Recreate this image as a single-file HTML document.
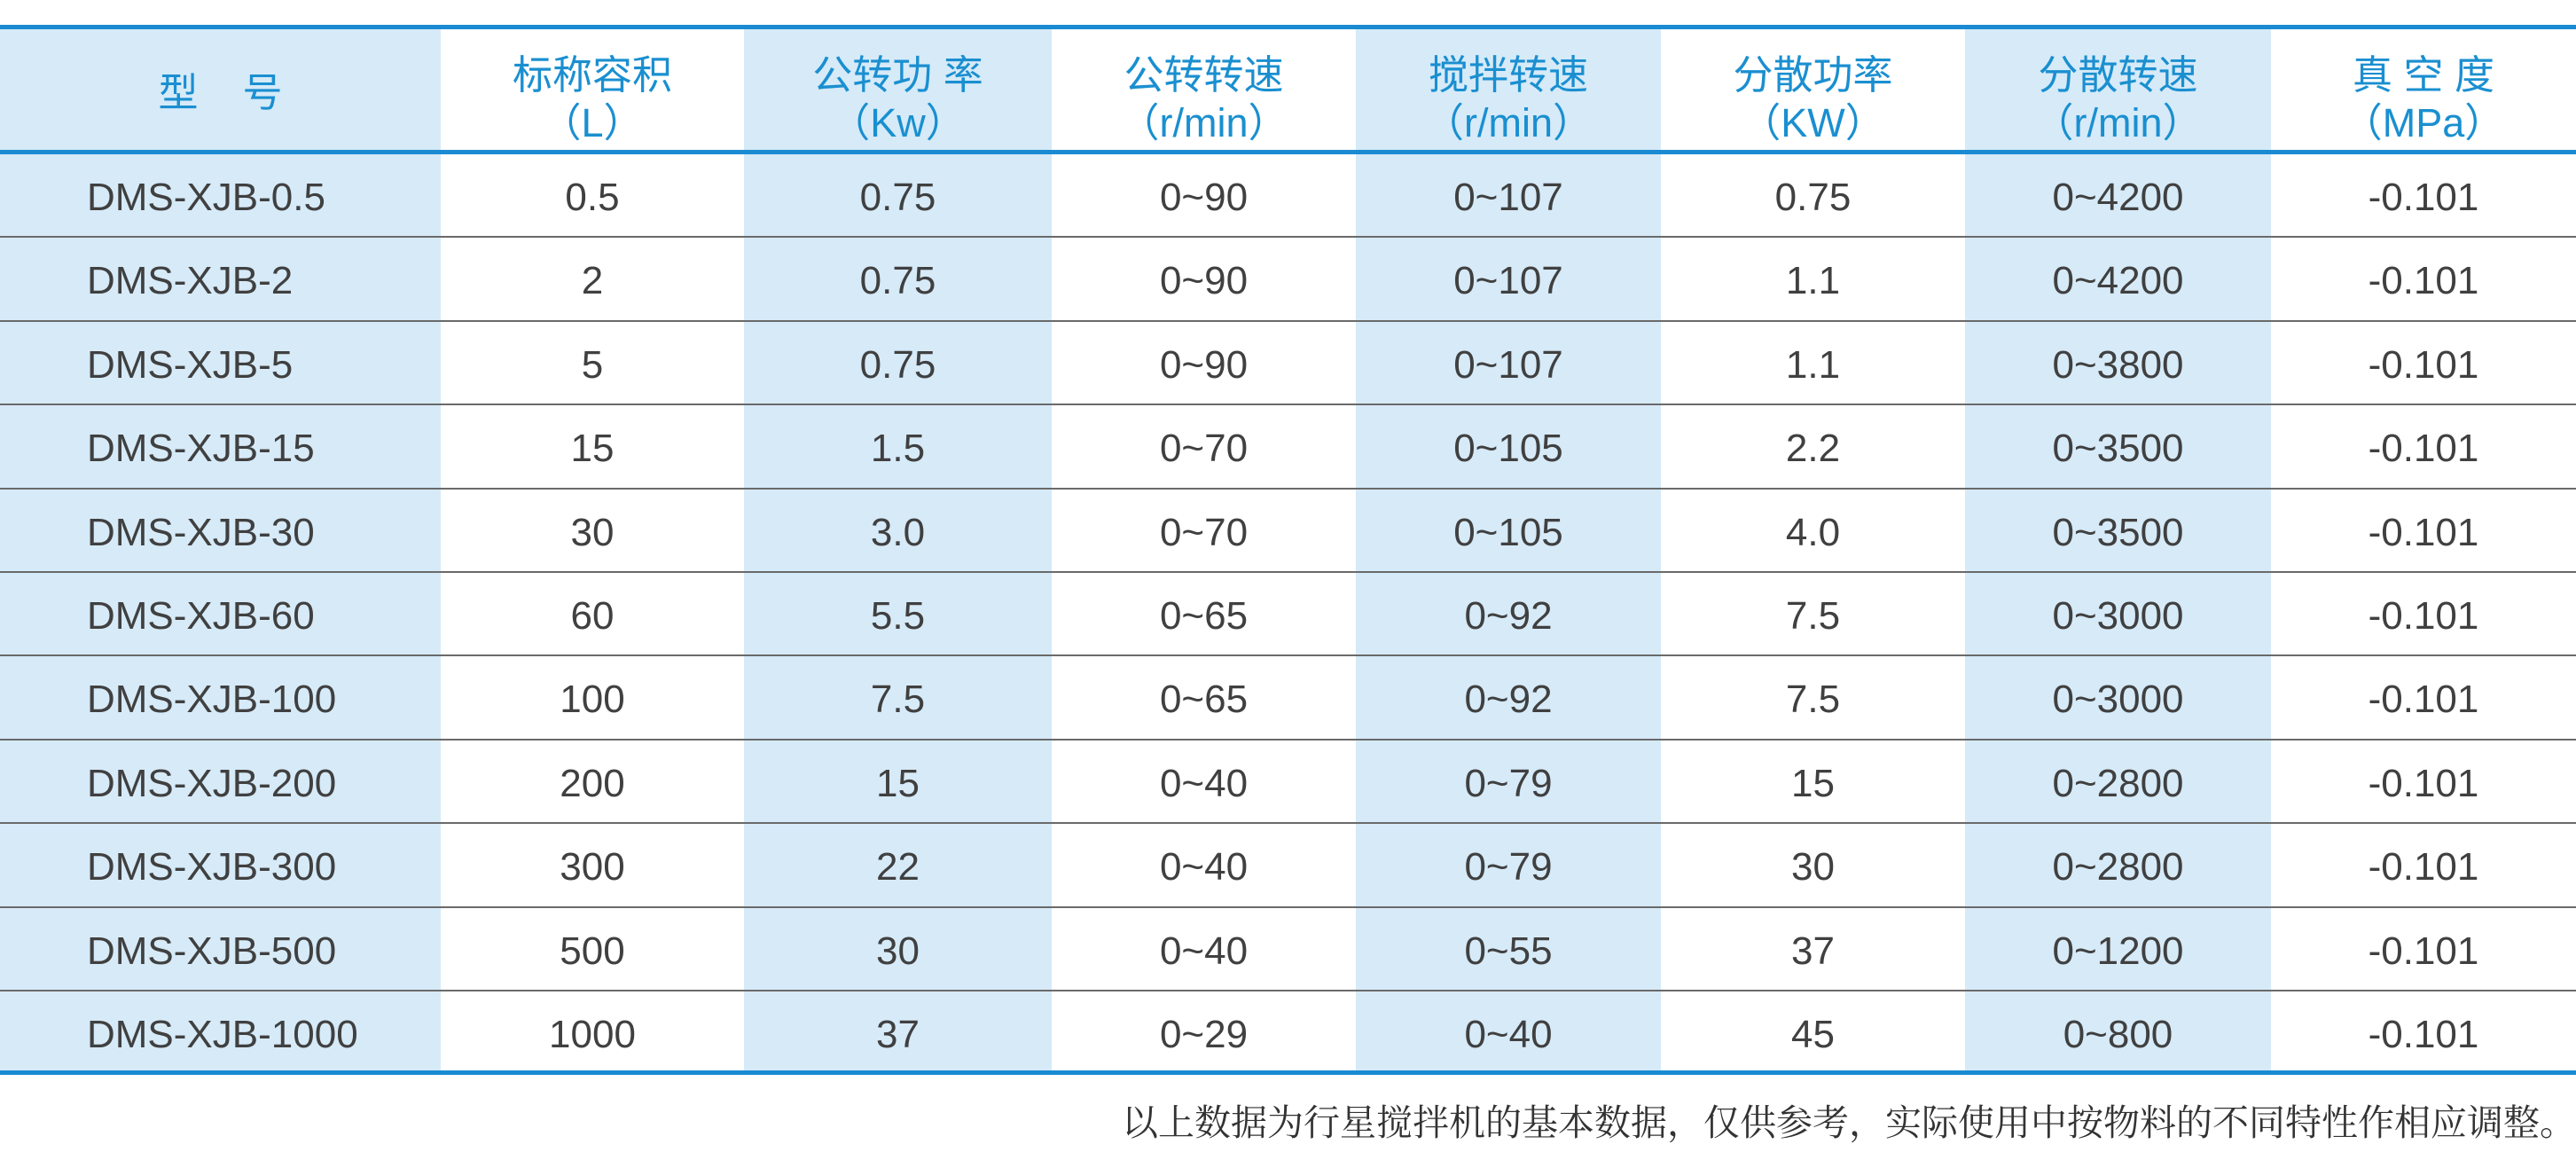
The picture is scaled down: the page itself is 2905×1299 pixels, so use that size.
<!DOCTYPE html>
<html><head><meta charset="utf-8"><style>
body{margin:0;width:2905px;height:1299px;background:#fff;position:relative;overflow:hidden;font-family:"Liberation Sans","Noto Sans CJK SC",sans-serif}
.sh{position:absolute;top:30px;height:1180px;background:#d6eaf8}
.bl{position:absolute;left:0;width:2905px;height:5px;background:#1a8bd2}
.gl{position:absolute;left:0;width:2905px;height:2px;background:#6a6a6a}
.h{position:absolute;color:#1a8fd0;text-align:center;font-size:45px;line-height:54px}
.c{position:absolute;color:#404040;font-size:44px;text-align:center;height:94px;line-height:94px}
.note{position:absolute;right:0;top:1236px;font-family:"Liberation Serif","Noto Serif CJK SC",serif;font-size:41px;color:#333;line-height:60px;white-space:nowrap}
</style></head><body>
<div class="sh" style="left:0;width:497px"></div>
<div class="sh" style="left:839px;width:347px"></div>
<div class="sh" style="left:1529px;width:344px"></div>
<div class="sh" style="left:2216px;width:345px"></div>
<div class="bl" style="top:28px"></div>
<div class="bl" style="top:169px"></div>
<div class="bl" style="top:1207px"></div>
<div id="rows"></div>
<div class="h" style="left:0;width:497px;top:78px">型&nbsp;&nbsp;&nbsp;&nbsp;号</div>
<div class="h" style="left:497px;width:342px;top:58px">标称容积<br>（L）</div>
<div class="h" style="left:839px;width:347px;top:58px">公转功 率<br>（Kw）</div>
<div class="h" style="left:1186px;width:343px;top:58px">公转转速<br>（r/min）</div>
<div class="h" style="left:1529px;width:344px;top:58px">搅拌转速<br>（r/min）</div>
<div class="h" style="left:1873px;width:343px;top:58px">分散功率<br>（KW）</div>
<div class="h" style="left:2216px;width:345px;top:58px">分散转速<br>（r/min）</div>
<div class="h" style="left:2561px;width:344px;top:58px">真 空 度<br>（MPa）</div>
<div class="note">以上数据为行星搅拌机的基本数据，仅供参考，实际使用中按物料的不同特性作相应调整。</div>
<script>
var d=[["DMS-XJB-0.5","0.5","0.75","0~90","0~107","0.75","0~4200"],
["DMS-XJB-2","2","0.75","0~90","0~107","1.1","0~4200"],
["DMS-XJB-5","5","0.75","0~90","0~107","1.1","0~3800"],
["DMS-XJB-15","15","1.5","0~70","0~105","2.2","0~3500"],
["DMS-XJB-30","30","3.0","0~70","0~105","4.0","0~3500"],
["DMS-XJB-60","60","5.5","0~65","0~92","7.5","0~3000"],
["DMS-XJB-100","100","7.5","0~65","0~92","7.5","0~3000"],
["DMS-XJB-200","200","15","0~40","0~79","15","0~2800"],
["DMS-XJB-300","300","22","0~40","0~79","30","0~2800"],
["DMS-XJB-500","500","30","0~40","0~55","37","0~1200"],
["DMS-XJB-1000","1000","37","0~29","0~40","45","0~800"]];
var xs=[0,497,839,1186,1529,1873,2216,2561,2905];
var h="";
for(var i=0;i<11;i++){var ty=Math.round(174+i*94.4);
 if(i>0)h+='<div class="gl" style="top:'+(ty-2)+'px"></div>';
 var r=d[i].concat(["-0.101"]);
 for(var j=0;j<8;j++){
  if(j==0)h+='<div class="c" style="left:98px;text-align:left;top:'+(ty+2)+'px">'+r[j]+'</div>';
  else h+='<div class="c" style="left:'+xs[j]+'px;width:'+(xs[j+1]-xs[j])+'px;top:'+(ty+2)+'px">'+r[j]+'</div>';
 }}
document.getElementById("rows").innerHTML=h;
</script>
</body></html>
